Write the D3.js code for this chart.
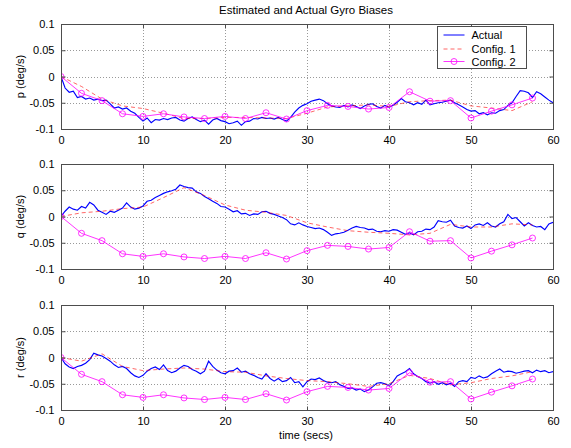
<!DOCTYPE html>
<html>
<head>
<meta charset="utf-8">
<script src="https://cdn.jsdelivr.net/npm/d3@7"></script>
<style>
  body { margin: 0; background: #fff; }
  svg { font-family: "Liberation Sans", Arial, sans-serif; }
</style>
</head>
<body>
<div id="chart"></div>
<script>
// time axis for the actual biases, one sample every 0.5 s
var tActual = d3.range(0, 60.25, 0.5);
// filter outputs, one sample every 2.5 s
var tConfig = d3.range(0, 58, 2.5);

var xTicks = [0, 10, 20, 30, 40, 50, 60];
var yTicks = [-0.1, -0.05, 0, 0.05, 0.1];
var yTickLabels = ["-0.1", "-0.05", "0", "0.05", "0.1"];
var legendLabels = ["Actual", "Config. 1", "Config. 2"];

var pActual = [
  0, -0.022, -0.03, -0.028, -0.04, -0.038, -0.043, -0.041, -0.045, -0.043,
  -0.046, -0.045, -0.052, -0.06, -0.058, -0.062, -0.06, -0.066, -0.07, -0.078,
  -0.085, -0.079, -0.088, -0.082, -0.083, -0.08, -0.082, -0.079, -0.078, -0.083,
  -0.085, -0.08, -0.077, -0.082, -0.086, -0.083, -0.091, -0.083, -0.08, -0.084,
  -0.086, -0.09, -0.088, -0.085, -0.093, -0.086, -0.085, -0.08, -0.081, -0.078,
  -0.08, -0.079, -0.081, -0.078, -0.082, -0.085, -0.078, -0.068, -0.06, -0.055,
  -0.052, -0.047, -0.045, -0.043, -0.046, -0.052, -0.056, -0.058, -0.059, -0.055,
  -0.058, -0.054, -0.057, -0.061, -0.056, -0.053, -0.052, -0.057, -0.06, -0.055,
  -0.059, -0.055, -0.049, -0.042, -0.048, -0.05, -0.054, -0.05, -0.053, -0.045,
  -0.054, -0.052, -0.05, -0.049, -0.047, -0.045, -0.05, -0.054, -0.058, -0.063,
  -0.066, -0.065, -0.071, -0.069, -0.073, -0.069, -0.07, -0.065, -0.063, -0.055,
  -0.05, -0.038, -0.027, -0.028, -0.031, -0.04, -0.029, -0.033, -0.039, -0.045,
  -0.05
];
var pConfig1 = [0, -0.019, -0.043, -0.056, -0.061, -0.07, -0.08, -0.08, -0.078, -0.078,
  -0.079, -0.08, -0.07, -0.058, -0.056, -0.054, -0.057, -0.048, -0.046, -0.045,
  -0.056, -0.06, -0.065, -0.048];

var qActual = [
  0, 0.01, 0.018, 0.014, 0.012, 0.019, 0.016, 0.027, 0.022, 0.012,
  0.008, 0.004, 0.01, 0.008, 0.012, 0.016, 0.026, 0.018, 0.014, 0.016,
  0.02, 0.029, 0.031, 0.036, 0.04, 0.044, 0.047, 0.049, 0.052, 0.06,
  0.057, 0.055, 0.054, 0.047, 0.044, 0.038, 0.034, 0.029, 0.025, 0.019,
  0.018, 0.014, 0.009, 0.011, 0.005, 0.006, 0.002, 0.005, 0.004, 0.009,
  0.01, 0.006, 0.004, 0.001, -0.002, -0.006, -0.014, -0.016, -0.012, -0.016,
  -0.019, -0.021, -0.023, -0.022, -0.025, -0.03, -0.036, -0.033, -0.032, -0.03,
  -0.026, -0.022, -0.019, -0.021, -0.022, -0.025, -0.024, -0.028, -0.029, -0.027,
  -0.028, -0.025, -0.026, -0.03, -0.034, -0.031, -0.035, -0.029, -0.028, -0.024,
  -0.025, -0.02, -0.008, -0.01, -0.011, -0.007, -0.018, -0.021, -0.022, -0.018,
  -0.023, -0.016, -0.014, -0.017, -0.012, -0.018, -0.02, -0.014, -0.01, 0.004,
  -0.004, -0.002, -0.01, -0.018, -0.012, -0.017, -0.02, -0.019, -0.025, -0.014,
  -0.011
];
var qConfig1 = [0, 0.007, 0.01, 0.015, 0.018, 0.036, 0.055, 0.04, 0.022, 0.012,
  0.008, 0.002, -0.012, -0.02, -0.027, -0.03, -0.032, -0.035, -0.032, -0.015,
  -0.02, -0.02, -0.014, -0.016];

var rActual = [
  0, -0.012, -0.018, -0.021, -0.017, -0.015, -0.011, -0.004, 0.008, 0.005,
  0.003, -0.002, -0.007, -0.014, -0.019, -0.017, -0.021, -0.029, -0.035, -0.038,
  -0.034, -0.026, -0.021, -0.018, -0.023, -0.014, -0.025, -0.029, -0.026, -0.02,
  -0.015, -0.017, -0.023, -0.026, -0.031, -0.026, -0.007, -0.017, -0.024, -0.029,
  -0.031, -0.026, -0.025, -0.02, -0.028, -0.026, -0.031, -0.034, -0.038, -0.041,
  -0.031, -0.04, -0.045, -0.04, -0.046, -0.044, -0.038, -0.048, -0.046, -0.056,
  -0.046, -0.041, -0.042, -0.039, -0.044, -0.047, -0.048, -0.046, -0.052, -0.055,
  -0.059, -0.058, -0.062, -0.06, -0.065, -0.062, -0.056, -0.049, -0.048, -0.05,
  -0.054, -0.046, -0.035, -0.031, -0.027, -0.021, -0.031, -0.036, -0.04, -0.046,
  -0.049, -0.046, -0.051, -0.048, -0.052, -0.049, -0.055, -0.046, -0.044, -0.046,
  -0.038, -0.04, -0.035, -0.039, -0.037, -0.031, -0.026, -0.022, -0.028, -0.026,
  -0.027, -0.03, -0.028, -0.026, -0.025, -0.029, -0.024, -0.027, -0.025, -0.029,
  -0.027
];
var rConfig1 = [0, -0.007, 0.007, -0.017, -0.025, -0.022, -0.02, -0.022, -0.027, -0.028,
  -0.035, -0.04, -0.044, -0.046, -0.05, -0.055, -0.05, -0.034, -0.04, -0.052,
  -0.048, -0.04, -0.035, -0.027];

// Config. 2 estimate, the same in all three channels
var config2 = [0, -0.032, -0.046, -0.071, -0.076, -0.071, -0.077, -0.08, -0.076, -0.08,
  -0.069, -0.081, -0.065, -0.055, -0.057, -0.062, -0.059, -0.029, -0.047, -0.046,
  -0.079, -0.066, -0.054, -0.041];

var panels = [
  { label: "p (deg/s)", top: 24, actual: pActual, config1: pConfig1, config2: config2 },
  { label: "q (deg/s)", top: 164, actual: qActual, config1: qConfig1, config2: config2 },
  { label: "r (deg/s)", top: 305, actual: rActual, config1: rConfig1, config2: config2 }
];

var W = 571, H = 448;
var LEFT = 61, RIGHT = 553, PH = 105;
var BLUE = "#0000ff", RED = "#ff0000", MAGENTA = "#ff00ff";
var AXIS = "#4d4d4d";

var svg = d3.select("#chart").append("svg")
  .attr("width", W)
  .attr("height", H);

var x = d3.scaleLinear().domain([0, 60]).range([LEFT, RIGHT]);

svg.append("text")
  .attr("x", 306)
  .attr("y", 14)
  .attr("text-anchor", "middle")
  .style("font-size", "11.5px")
  .text("Estimated and Actual Gyro Biases");

panels.forEach(function (pn, idx) {
  var y = d3.scaleLinear().domain([-0.1, 0.1]).range([pn.top + PH, pn.top]);
  var g = svg.append("g");

  // dotted grid
  g.selectAll(".gx").data(xTicks.slice(1, -1)).enter().append("line")
    .attr("x1", function (d) { return Math.round(x(d)) + 0.5; })
    .attr("x2", function (d) { return Math.round(x(d)) + 0.5; })
    .attr("y1", pn.top).attr("y2", pn.top + PH)
    .attr("stroke", "#999").attr("stroke-dasharray", "1,2");
  g.selectAll(".gy").data(yTicks.slice(1, -1)).enter().append("line")
    .attr("y1", function (d) { return Math.round(y(d)) + 0.5; })
    .attr("y2", function (d) { return Math.round(y(d)) + 0.5; })
    .attr("x1", LEFT).attr("x2", RIGHT)
    .attr("stroke", "#999").attr("stroke-dasharray", "1,2");

  var clip = "clip" + idx;
  svg.append("clipPath").attr("id", clip).append("rect")
    .attr("x", LEFT).attr("y", pn.top).attr("width", RIGHT - LEFT).attr("height", PH);
  var lines = g.append("g").attr("clip-path", "url(#" + clip + ")");

  var lineA = d3.line()
    .x(function (d, i) { return x(tActual[i]); })
    .y(function (d) { return y(d); });
  var lineC = d3.line()
    .x(function (d, i) { return x(tConfig[i]); })
    .y(function (d) { return y(d); });

  lines.append("path").datum(pn.actual)
    .attr("d", lineA).attr("fill", "none").attr("stroke", BLUE).attr("stroke-width", 1.15);
  lines.append("path").datum(pn.config1)
    .attr("d", lineC).attr("fill", "none").attr("stroke", RED)
    .attr("stroke-width", 0.8).attr("stroke-dasharray", "4,3").attr("opacity", 0.75);
  lines.append("path").datum(pn.config2)
    .attr("d", lineC).attr("fill", "none").attr("stroke", MAGENTA).attr("stroke-width", 0.8);
  lines.selectAll("circle").data(pn.config2).enter().append("circle")
    .attr("cx", function (d, i) { return x(tConfig[i]); })
    .attr("cy", function (d) { return y(d); })
    .attr("r", 3)
    .attr("fill", "none").attr("stroke", MAGENTA).attr("stroke-width", 0.8);

  // box
  g.append("rect")
    .attr("x", LEFT + 0.5).attr("y", pn.top + 0.5)
    .attr("width", RIGHT - LEFT).attr("height", PH)
    .attr("fill", "none").attr("stroke", AXIS);

  // axes with inward ticks
  var xAxis = d3.axisBottom(x).tickValues(xTicks).tickSizeInner(-4).tickSizeOuter(0)
    .tickPadding(7);
  var yAxis = d3.axisLeft(y).tickValues(yTicks).tickSizeInner(-4).tickSizeOuter(0)
    .tickPadding(7).tickFormat(function (d, i) { return yTickLabels[i]; });

  g.append("g").attr("transform", "translate(0," + (pn.top + PH + 0.5) + ")").call(xAxis);
  g.append("g").attr("transform", "translate(" + (LEFT + 0.5) + ",0)").call(yAxis);
  g.append("g").attr("transform", "translate(0," + (pn.top + 0.5) + ")")
    .call(d3.axisTop(x).tickValues(xTicks).tickSizeInner(-4).tickSizeOuter(0).tickFormat(""));
  g.append("g").attr("transform", "translate(" + (RIGHT + 0.5) + ",0)")
    .call(d3.axisRight(y).tickValues(yTicks).tickSizeInner(-4).tickSizeOuter(0).tickFormat(""));

  g.selectAll(".domain").remove();
  g.selectAll(".tick line").attr("stroke", AXIS);
  g.selectAll(".tick text")
    .attr("fill", "#000")
    .style("font-size", "11px")
    .style("font-family", "'Liberation Sans', Arial, sans-serif");

  g.append("text")
    .attr("transform", "translate(24," + (pn.top + PH / 2) + ") rotate(-90)")
    .attr("text-anchor", "middle")
    .style("font-size", "11px")
    .text(pn.label);
});

svg.append("text")
  .attr("x", 306)
  .attr("y", 439)
  .attr("text-anchor", "middle")
  .style("font-size", "11px")
  .text("time (secs)");

// legend
var lg = svg.append("g").attr("transform", "translate(437.5,26.5)");
lg.append("rect").attr("width", 89).attr("height", 42)
  .attr("fill", "#fff").attr("stroke", AXIS);
var legendColors = [BLUE, RED, MAGENTA];
var rowY = [8.5, 22.5, 35];
legendLabels.forEach(function (lab, i) {
  var ln = lg.append("line")
    .attr("x1", 6).attr("x2", 27).attr("y1", rowY[i]).attr("y2", rowY[i])
    .attr("stroke", legendColors[i]).attr("stroke-width", i === 0 ? 1 : 0.8);
  if (i === 1) ln.attr("stroke-dasharray", "4,3").attr("opacity", 0.75);
  if (i === 2) {
    lg.append("circle").attr("cx", 16.5).attr("cy", rowY[i]).attr("r", 3)
      .attr("fill", "none").attr("stroke", MAGENTA).attr("stroke-width", 0.8);
  }
  lg.append("text").attr("x", 34).attr("y", rowY[i] + 4)
    .style("font-size", "11px").text(lab);
});
</script>
</body>
</html>
